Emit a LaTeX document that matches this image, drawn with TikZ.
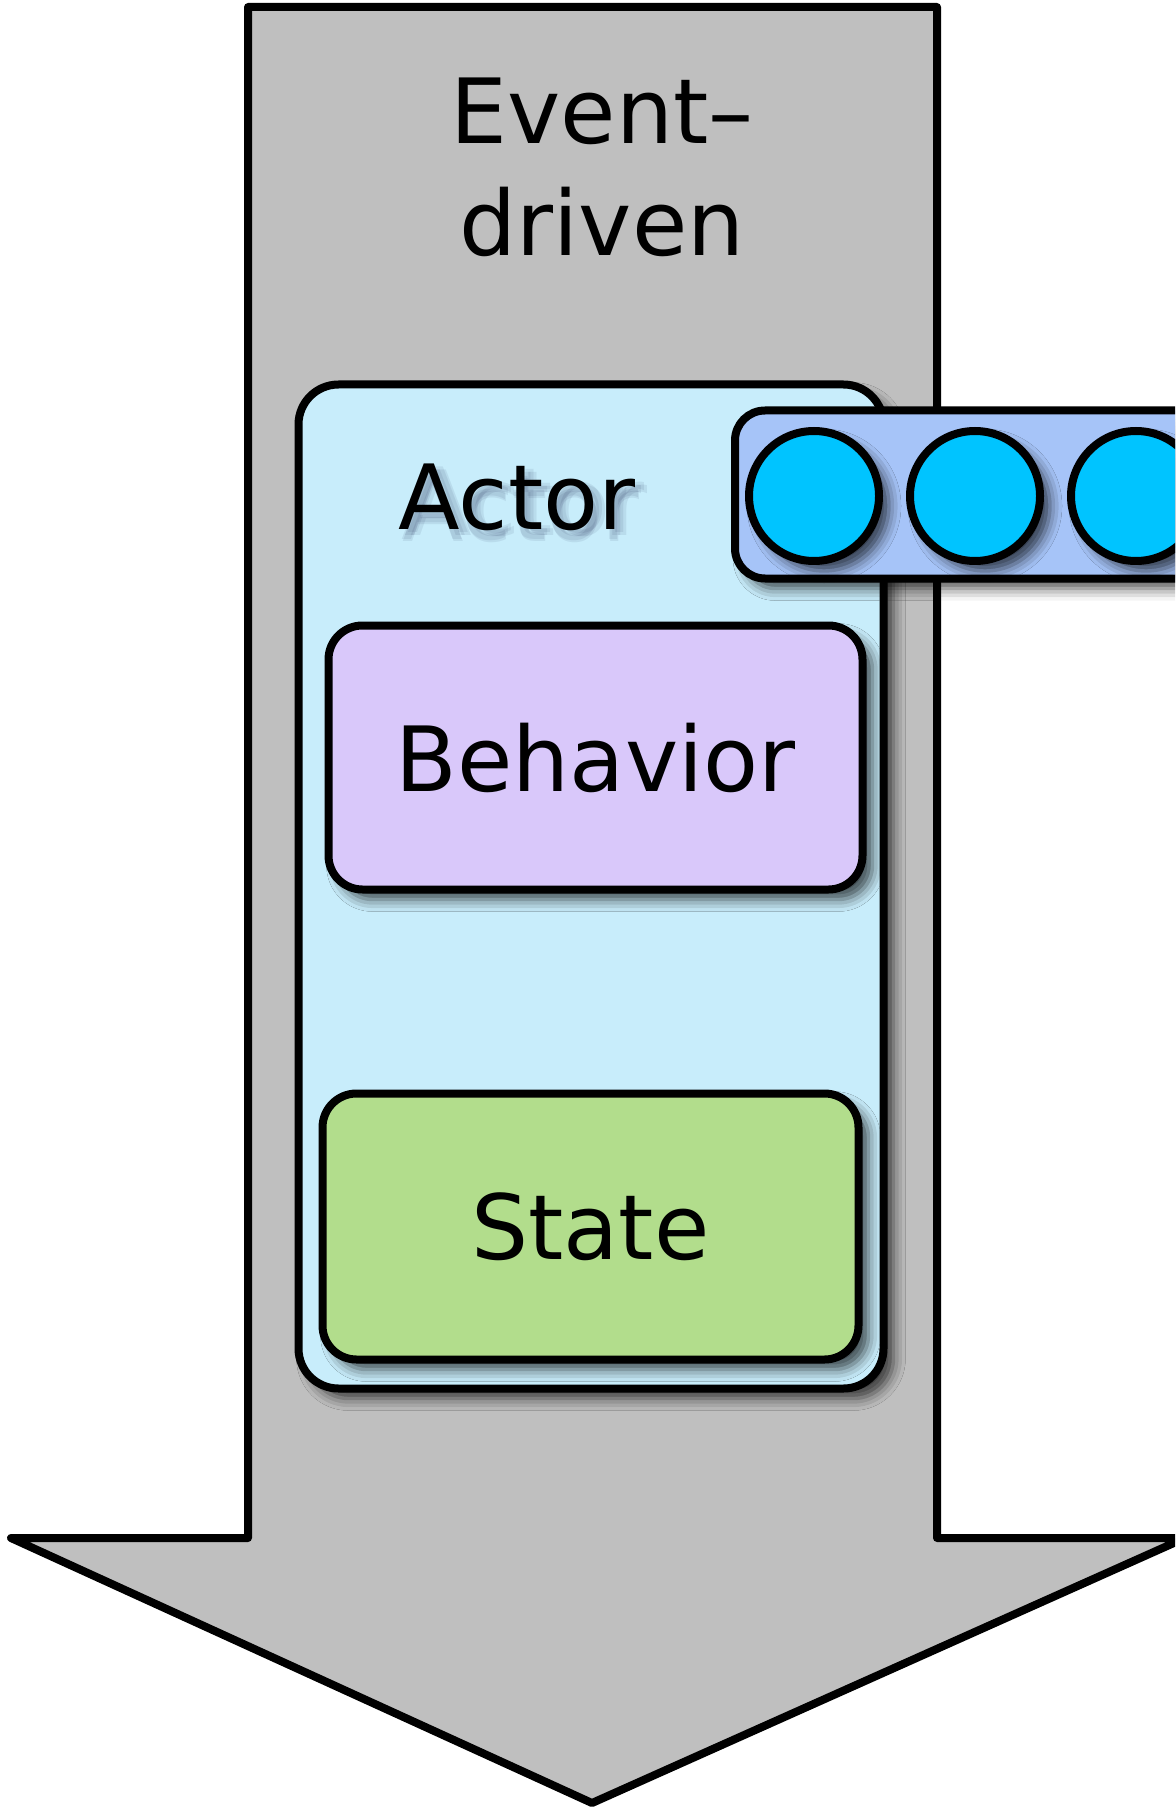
\documentclass[tikz,border=0pt]{standalone}
\usepackage{fontspec}
\setmainfont{DejaVu Sans}
\usetikzlibrary{shadows.blur}

\definecolor{arrowgray}{RGB}{191,191,191}
\definecolor{actorblue}{RGB}{200,237,251}
\definecolor{behaviorlilac}{RGB}{217,200,250}
\definecolor{stategreen}{RGB}{178,221,140}
\definecolor{mailboxblue}{RGB}{166,196,248}
\definecolor{msgcyan}{RGB}{0,196,255}

\begin{document}
\begin{tikzpicture}[ x = 0.5pt, y = -0.5pt, line width = 4pt, line join = round,
	softshadow/.style = { blur shadow = {shadow xshift=5pt,shadow yshift=-5pt,shadow blur radius=6pt,shadow opacity=70} },
	box/.style = { draw, rounded corners = 17pt, inner sep = 0pt, softshadow, font = \fontsize{45}{56}\selectfont },
	msg/.style = { draw, circle, fill = msgcyan, minimum size = 65pt, inner sep = 0pt, softshadow },
	bigtext/.style = { font = \fontsize{45}{56}\selectfont, anchor = base } ]
		\clip ( 0, 0 ) rectangle ( 1175, 1807 );

		% стрелка
		\draw [ fill = arrowgray ] ( 248, 7 ) -- ( 937, 7 ) -- ( 937, 1538 ) -- ( 1185, 1538 ) -- ( 592, 1803 ) -- ( 11, 1538 ) -- ( 248, 1538 ) -- cycle;
		\node [ bigtext ] (event) at ( 602, 144 ) {Event–};
		\node [ bigtext ] (driven) at ( 602, 256 ) {driven};

		% актор
		\node [ box, rounded corners = 20pt, fill = actorblue, minimum width = 292.5pt, minimum height = 502pt ] (actor) at ( 591, 886.5 ) {};
		% размытая тень подписи
		\foreach \dx/\dy in { 3/9, 9/3, 6/6, 4/12, 12/6 }
			\node [ bigtext, text = black!80!blue, opacity = 0.07 ] at ( 517 + \dx, 530 + \dy ) {Actor};
		\node [ bigtext ] (actorname) at ( 517, 530 ) {Actor};

		% поведение и состояние
		\node [ box, fill = behaviorlilac, minimum width = 267pt, minimum height = 132pt ] (behavior) at ( 595.5, 757.5 ) {Behavior};
		\node [ box, fill = stategreen, minimum width = 268pt, minimum height = 133pt ] (state) at ( 590.5, 1226.5 ) {State};

		% почтовый ящик
		\node [ box, rounded corners = 15pt, fill = mailboxblue, minimum width = 300pt, minimum height = 84pt, anchor = west ] (mailbox) at ( 731, 494.5 ) {};
		\node [ msg ] (msg1) at ( 814, 496 ) {};
		\node [ msg ] (msg2) at ( 975, 496 ) {};
		\node [ msg ] (msg3) at ( 1136, 496 ) {};
\end{tikzpicture}
\end{document}
